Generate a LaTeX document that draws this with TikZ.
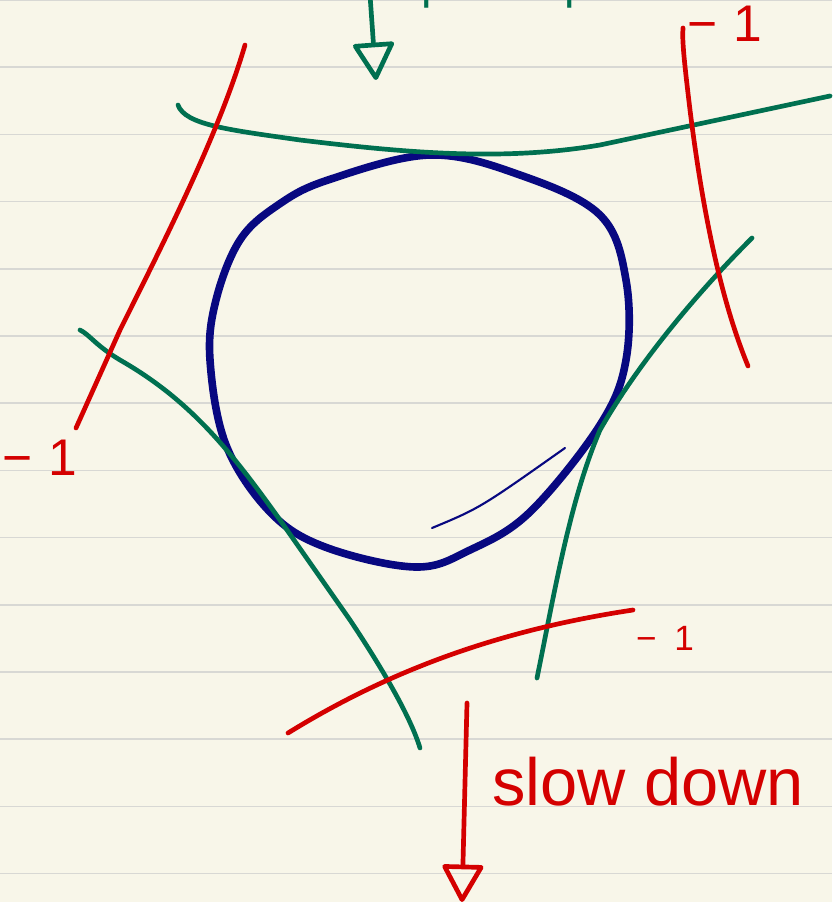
\documentclass[tikz,border=0pt]{standalone}
\usepackage{fontspec}
\setmainfont{Liberation Sans}
\usepackage{tikz}
\usetikzlibrary{arrows.meta}
\usepackage{xcolor}
\definecolor{paper}{RGB}{248, 246, 233}
\definecolor{ruling}{RGB}{216, 216, 212}
\definecolor{pengreen}{RGB}{0, 112, 80}
\definecolor{penred}{RGB}{212, 0, 0}
\definecolor{pennavy}{RGB}{8, 8, 128}

\begin{document}
\begin{tikzpicture}[
    x=0.03cm, y=-0.03cm,
    greenpen/.style={draw=pengreen, line width=4pt, line cap=round, line join=round},
    redpen/.style={draw=penred, line width=4pt, line cap=round, line join=round},
    navypen/.style={draw=pennavy, line width=6.5pt, line cap=round, line join=round},
    minuslabel/.style={text=penred, inner sep=0pt, font=\fontsize{44}{44}\selectfont},
    handarrow/.style={-{Triangle[open, round, length=1.2cm, width=1.3cm]}}
]
    % Paper
    \fill[paper] (0,0) rectangle (832,902);
    \useasboundingbox (0,0) rectangle (832,902);
    \foreach \r in {0,...,13} {
        \draw[ruling, line width=1.5pt] (0,{\r*67.2}) -- (832,{\r*67.2});
    }

    % Circle
    \draw[navypen] plot[smooth cycle, tension=0.6] coordinates {
        (430,155) (520,175) (600,215) (626,280) (626,360) (600,425)
        (530,512) (470,550) (415,567) (325,547) (270,512) (226,445)
        (210,360) (216,300) (240,240) (278,205) (328,180)};
    \draw[draw=pennavy, line width=1.8pt, line cap=round]
        (432,528) .. controls (480,508) .. (565,448);

    % Tangent lines
    \draw[greenpen] (178,105) .. controls (185,125) and (230,130) .. (300,140)
        .. controls (400,152) and (500,162) .. (600,145)
        -- (830,96);
    \draw[greenpen] (80,330) .. controls (90,335) and (95,345) .. (120,360)
        .. controls (190,400) and (230,450) .. (280,520)
        -- (350,620) .. controls (380,665) and (410,715) .. (420,748);
    \draw[greenpen] (752,238) .. controls (700,290) and (640,360) .. (600,430)
        .. controls (570,500) and (555,590) .. (537,678);

    % Normals
    \draw[redpen] (245,45) .. controls (220,130) and (170,230) .. (120,330)
        -- (76,428);
    \draw[redpen] (683,28) .. controls (682,40) and (684,60) .. (690,110)
        .. controls (705,230) and (725,310) .. (748,366);
    \draw[redpen] (288,733) .. controls (390,670) and (500,630) .. (633,610);

    % Labels
    \node[minuslabel] (lblleft) at (40,458) {−\hspace{0.3em}1};
    \node[minuslabel] (lbltop) at (725,24) {−\hspace{0.3em}1};
    \node[minuslabel, font=\fontsize{30}{30}\selectfont] (lblbottom) at (665,638) {−\hspace{0.5em}1};

    % Speed arrows
    \node[text=pengreen, anchor=base west, inner sep=0pt, font=\fontsize{40}{40}\selectfont]
        (speedtext) at (398,-1) {speed up};
    \coordinate (speedtop) at (370,-5);
    \coordinate (speedtip) at (376,80);
    \draw[greenpen, handarrow] (speedtop) -- (speedtip);

    \node[text=penred, anchor=base west, inner sep=0pt, font=\fontsize{57}{57}\selectfont]
        (slowtext) at (492,805) {slow down};
    \coordinate (slowtop) at (467,703);
    \coordinate (slowtip) at (462,902);
    \draw[redpen, handarrow] (slowtop) -- (slowtip);
\end{tikzpicture}
\end{document}
